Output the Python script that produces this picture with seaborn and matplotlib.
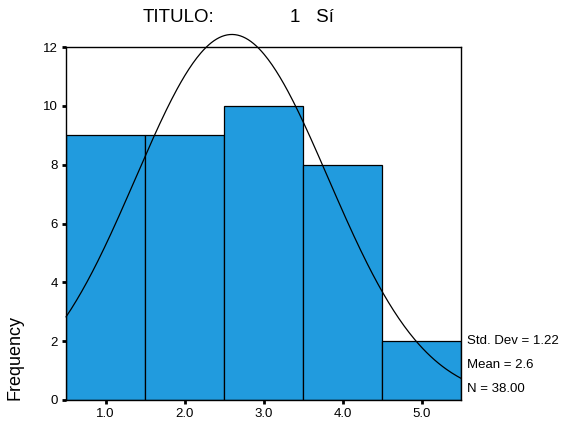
import numpy as np
import seaborn as sns
import matplotlib.pyplot as plt

# histogram data
categories = [1, 2, 3, 4, 5]
counts = [9, 9, 10, 8, 2]
tick_labels = ["1.0", "2.0", "3.0", "4.0", "5.0"]
std_dev = 1.22
mean = 2.6
n_total = 38.00

sns.set_style("white")
plt.rcParams['font.family'] = ['Liberation Sans', 'DejaVu Sans']
plt.rcParams['text.color'] = 'black'
plt.rcParams['xtick.color'] = 'black'
plt.rcParams['ytick.color'] = 'black'
plt.rcParams['xtick.labelcolor'] = 'black'
plt.rcParams['ytick.labelcolor'] = 'black'

fig = plt.figure(figsize=(5.71, 4.28), dpi=100)
ax = fig.add_axes([66 / 571, 1 - 400 / 428, 395 / 571, 353 / 428])

sns.histplot(x=categories, weights=counts, discrete=True, shrink=1,
             color='#219BDE', alpha=1, edgecolor='black', linewidth=0.9, ax=ax)

# fitted normal curve (bin width 1)
xs = np.linspace(0.5, 5.5, 300)
ys = n_total / (std_dev * np.sqrt(2 * np.pi)) * np.exp(-0.5 * ((xs - mean) / std_dev) ** 2)
ax.plot(xs, ys, color='black', linewidth=0.9, clip_on=False, zorder=5)

ax.set_xlim(0.5, 5.5)
ax.set_ylim(0, 12)
ax.set_xticks(categories)
ax.set_xticklabels(tick_labels)
ax.set_yticks(range(0, 13, 2))
ax.tick_params(axis='both', direction='out', length=3, width=2, colors='black',
               labelsize=9.5, pad=3)
ax.tick_params(axis='y', left=True)
ax.tick_params(axis='x', bottom=True)
for sp in ax.spines.values():
    sp.set_color('black')
    sp.set_linewidth(1)
ax.set_xlabel('')
ax.set_ylabel('')

fig.text(143 / 571, 1 - 18 / 428, 'TITULO:', fontsize=13.5, ha='left', va='center')
fig.text(290 / 571, 1 - 18 / 428, '1   Sí', fontsize=13.5, ha='left', va='center')
fig.text(15 / 571, 1 - 400 / 428, 'Frequency', fontsize=13, rotation=90,
         ha='center', va='bottom')

stats = ['Std. Dev = %.2f' % std_dev, 'Mean = %.1f' % mean, 'N = %.2f' % n_total]
for i, s in enumerate(stats):
    fig.text(467 / 571, 1 - (341 + 24 * i) / 428, s, fontsize=9.5, ha='left', va='center')

fig.savefig('out.png', dpi=100)
